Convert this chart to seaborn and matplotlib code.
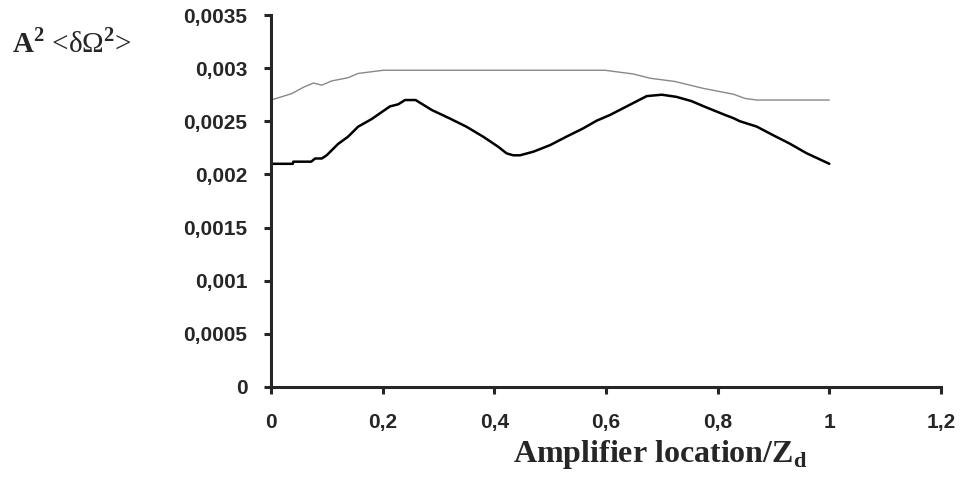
import seaborn as sns
import matplotlib.pyplot as plt
from matplotlib.ticker import FixedLocator, FuncFormatter
import pandas as pd

# black curve
z_black = [0.0, 0.039, 0.040, 0.072, 0.079, 0.091, 0.0997, 0.12, 0.138, 0.156, 0.180, 0.213, 0.228,
           0.240, 0.259, 0.288, 0.32, 0.350, 0.380, 0.407, 0.422, 0.434, 0.446, 0.470, 0.50, 0.529,
           0.559, 0.583, 0.607, 0.637, 0.673, 0.700, 0.726, 0.753, 0.780, 0.813, 0.828, 0.840, 0.870,
           0.899, 0.929, 0.959, 1.0]
v_black = [0.00210, 0.00210, 0.00212, 0.00212, 0.00215, 0.00215, 0.00218, 0.002286, 0.002355, 0.002449,
           0.00252, 0.00264, 0.00266, 0.00270, 0.00270, 0.002606, 0.002527, 0.002449, 0.002355, 0.00226,
           0.002198, 0.00218, 0.00218, 0.002214, 0.002276, 0.002355, 0.002433, 0.002505, 0.002559,
           0.00264, 0.002737, 0.00275, 0.00273, 0.00269, 0.00263, 0.00256, 0.00253, 0.00250, 0.00245,
           0.00237, 0.00229, 0.00220, 0.00210]

# grey curve
z_grey = [0.0, 0.037, 0.058, 0.076, 0.091, 0.109, 0.138, 0.156, 0.201, 0.598, 0.649, 0.679, 0.723,
          0.774, 0.828, 0.849, 0.870, 1.0]
v_grey = [0.00270, 0.00276, 0.00282, 0.00286, 0.00284, 0.00288, 0.00291, 0.00295, 0.00298, 0.00298,
          0.002945, 0.002905, 0.002875, 0.00281, 0.002755, 0.002715, 0.00270, 0.00270]

x_ticks = [0, 0.2, 0.4, 0.6, 0.8, 1.0, 1.2]
y_ticks = [0, 0.0005, 0.001, 0.0015, 0.002, 0.0025, 0.003, 0.0035]

black = pd.DataFrame({"z": z_black, "v": v_black})
grey = pd.DataFrame({"z": z_grey, "v": v_grey})

sns.set_style("ticks")
plt.rcParams["font.family"] = ["Liberation Sans", "DejaVu Sans"]
plt.rcParams["mathtext.fontset"] = "custom"
plt.rcParams["mathtext.rm"] = "Liberation Serif"
plt.rcParams["mathtext.bf"] = "Liberation Serif:bold"

fig = plt.figure(figsize=(9.62, 4.79), dpi=100)
ax = fig.add_axes([271 / 962, 1 - 387 / 479, 670 / 962, 372 / 479])

sns.lineplot(data=grey, x="z", y="v", ax=ax, color="#888888", linewidth=1.0, estimator=None, sort=False)
sns.lineplot(data=black, x="z", y="v", ax=ax, color="black", linewidth=1.8, estimator=None, sort=False)

ax.set_xlim(0, 1.2)
ax.set_ylim(0, 0.0035)
ax.xaxis.set_major_locator(FixedLocator(x_ticks))
ax.yaxis.set_major_locator(FixedLocator(y_ticks))


def comma(v, pos):
    s = "%g" % v
    if "e" in s:
        s = ("%.4f" % v).rstrip("0")
    return s.replace(".", ",")


ax.xaxis.set_major_formatter(FuncFormatter(comma))
ax.yaxis.set_major_formatter(FuncFormatter(comma))

for side in ["left", "bottom"]:
    ax.spines[side].set_linewidth(2.2)
sns.despine(ax=ax)
ax.tick_params(axis="both", direction="out", length=5, width=2.2, labelsize=15)
ax.tick_params(axis="y", pad=12)
ax.tick_params(axis="x", pad=14)
for lab in ax.get_xticklabels() + ax.get_yticklabels():
    lab.set_fontweight("bold")

ax.set_ylabel("")
ax.set_xlabel(r"Amplifier location/Z$_\mathbf{d}$", family="Liberation Serif", fontweight="bold",
              fontsize=23, va="baseline", ha="center")
ax.xaxis.set_label_coords((660 - 271) / 670, (387 - 462) / 372)

fig.text(12 / 962, 1 - 52 / 479, r"$\mathbf{A}^{\mathbf{2}}$ <δΩ$^{\mathbf{2}}$>",
         family="Liberation Serif", fontsize=21, ha="left", va="baseline")

fig.savefig("out.png", dpi=100)
